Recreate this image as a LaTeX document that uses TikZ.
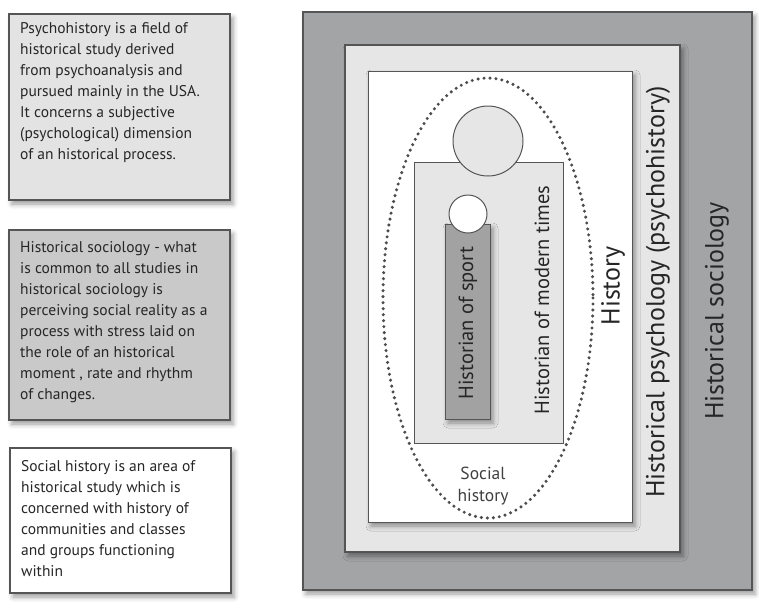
\documentclass[tikz,border=0pt]{standalone}
\usepackage{fontspec}
\setmainfont{PT Sans}
\usetikzlibrary{shadows.blur}
\definecolor{framegray}{HTML}{555555}
\definecolor{sociogray}{HTML}{A2A4A6}
\definecolor{psychogray}{HTML}{E6E6E6}
\definecolor{notegray}{HTML}{E3E3E3}
\definecolor{notedark}{HTML}{C9C9C9}
\definecolor{sportgray}{HTML}{A2A2A2}
\tikzset{
  frame/.style={draw=framegray, line width=1.3pt},
  soft/.style={blur shadow={shadow xshift=3pt, shadow yshift=-4pt, shadow blur radius=5pt, shadow opacity=40}},
  note/.style={anchor=north west, align=left, inner sep=0pt, font=\fontsize{15.5}{21}\selectfont, text=black!85},
  vlabel/.style={rotate=90, inner sep=0pt, text=black!85}
}
\begin{document}
\begin{tikzpicture}[x=1pt, y=-1pt]
  \useasboundingbox (0,0) rectangle (759,611);
  % notes on the left
  \filldraw[frame, fill=notegray, soft] (9,14) rectangle (230,200);
  \node[note] (psychonote) at (20,22) {Psychohistory is a field of\\historical study derived\\from psychoanalysis and\\pursued mainly in the USA.\\It concerns a subjective\\(psychological) dimension\\of an historical process.};
  \filldraw[frame, fill=notedark, soft] (9,230) rectangle (230,420);
  \node[note] (socionote) at (20,241) {Historical sociology - what\\is common to all studies in\\historical sociology is\\perceiving social reality as a\\process with stress laid on\\the role of an historical\\moment , rate and rhythm\\of changes.};
  \filldraw[frame, fill=white, soft] (10,448) rectangle (231,593);
  \node[note] (socialnote) at (21,460) {Social history is an area of\\historical study which is\\concerned with history of\\communities and classes\\and groups functioning\\within};
  % nested frames
  \filldraw[frame, fill=sociogray, soft] (303,12) rectangle (752,590);
  \filldraw[frame, fill=psychogray, soft] (345,45) rectangle (680,552);
  \filldraw[frame, line width=1pt, fill=white, soft] (368,71) rectangle (632,522);
  \filldraw[frame, line width=1pt, fill=psychogray] (414,162) rectangle (563,443);
  \filldraw[frame, line width=1pt, fill=psychogray] (488,141) circle (35);
  \filldraw[frame, line width=1pt, fill=sportgray, soft] (445,224) rectangle (490,419);
  \filldraw[frame, line width=1pt, fill=white] (468,214) circle (19);
  \draw[black!70, line width=3.4pt, line cap=round, dash pattern=on 0pt off 6pt] (488,298) ellipse (105 and 220);
  % labels
  \node[vlabel, font=\fontsize{20.5}{20}\selectfont] (sport) at (468,323) {Historian of sport};
  \node[vlabel, font=\fontsize{20.5}{20}\selectfont] (modern) at (542,300) {Historian of modern times};
  \node[vlabel, font=\fontsize{26}{26}\selectfont] (history) at (613,286) {History};
  \node[vlabel, font=\fontsize{26}{26}\selectfont] (psycho) at (658,292) {Historical psychology (psychohistory)};
  \node[vlabel, font=\fontsize{26}{26}\selectfont] (socio) at (717,311) {Historical sociology};
  \node[align=center, inner sep=0pt, text=black!75, font=\fontsize{17.5}{22}\selectfont] (social) at (483,486) {Social\\history};
\end{tikzpicture}
\end{document}
